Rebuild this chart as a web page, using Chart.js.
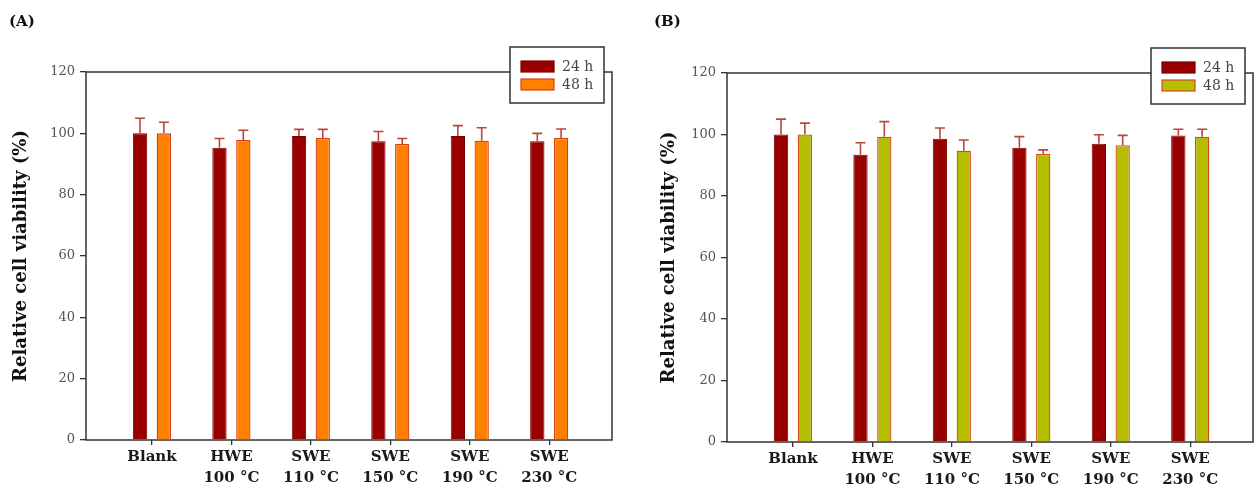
<!DOCTYPE html>
<html>
<head>
<meta charset="utf-8">
<script src="https://cdn.jsdelivr.net/npm/chart.js@4/dist/chart.umd.min.js"></script>
<style>
  body { margin: 0; background: #fff; }
  #wrap { position: relative; width: 1255px; height: 486px; }
  .panel { position: absolute; top: 0; height: 486px; }
  .tag { position: absolute; top: 12px; font: bold 15px "DejaVu Serif", serif; color: #111; }
</style>
</head>
<body>
<div id="wrap">
  <div class="panel" style="left:0;width:627px"><canvas id="chartA"></canvas></div>
  <div class="panel" style="left:627px;width:628px"><canvas id="chartB"></canvas></div>
  <div class="tag" style="left:9px">(A)</div>
  <div class="tag" style="left:654px">(B)</div>
</div>
<script>
const categories = [['Blank'], ['HWE', '100 °C'], ['SWE', '110 °C'], ['SWE', '150 °C'], ['SWE', '190 °C'], ['SWE', '230 °C']];
const seriesNames = ['24 h', '48 h'];
const yTicks = [0, 20, 40, 60, 80, 100, 120];

// panel A
const a24 = [100, 95.3, 99.1, 97.4, 99.1, 97.4];
const a24Err = [4.9, 3.0, 2.2, 3.2, 3.4, 2.6];
const a48 = [100, 97.8, 98.5, 96.5, 97.6, 98.5];
const a48Err = [3.6, 3.2, 2.8, 1.8, 4.2, 2.9];

// panel B
const b24 = [100, 93.4, 98.6, 95.7, 97.0, 99.7];
const b24Err = [5.0, 3.9, 3.5, 3.6, 2.9, 2.0];
const b48 = [100, 99.3, 94.7, 93.7, 96.5, 99.3];
const b48Err = [3.7, 4.9, 3.5, 1.3, 3.2, 2.4];

const errColor = '#b8463f';

const errorBars = {
  id: 'errorBars',
  afterDatasetsDraw(chart) {
    const ctx = chart.ctx;
    const y = chart.scales.y;
    ctx.save();
    ctx.strokeStyle = errColor;
    ctx.lineWidth = 1.6;
    chart.data.datasets.forEach((ds, d) => {
      chart.getDatasetMeta(d).data.forEach((bar, i) => {
        const top = y.getPixelForValue(ds.data[i].y + ds.err[i]);
        ctx.beginPath();
        ctx.moveTo(bar.x, bar.y);
        ctx.lineTo(bar.x, top);
        ctx.moveTo(bar.x - 5, top);
        ctx.lineTo(bar.x + 5, top);
        ctx.stroke();
      });
    });
    ctx.restore();
  }
};

const frameAndLegend = {
  id: 'frameAndLegend',
  beforeDatasetsDraw(chart) {
    const a = chart.chartArea;
    const ctx = chart.ctx;
    ctx.save();
    ctx.strokeStyle = '#333';
    ctx.lineWidth = 1.5;
    ctx.strokeRect(a.left, a.top, a.right - a.left, a.bottom - a.top);
    ctx.restore();
  },
  afterDraw(chart) {
    const a = chart.chartArea;
    const ctx = chart.ctx;
    const bx = a.right - 102, by = a.top - 25, bw = 94, bh = 56;
    ctx.save();
    ctx.fillStyle = '#fff';
    ctx.fillRect(bx, by, bw, bh);
    ctx.strokeStyle = '#333';
    ctx.lineWidth = 1.5;
    ctx.strokeRect(bx, by, bw, bh);
    ctx.font = '14px "DejaVu Serif", serif';
    ctx.textBaseline = 'middle';
    chart.data.datasets.forEach((ds, d) => {
      const sy = by + 14 + d * 18;
      ctx.fillStyle = ds.backgroundColor;
      ctx.fillRect(bx + 11, sy, 33, 11);
      ctx.strokeStyle = ds.borderColor;
      ctx.lineWidth = 1.2;
      ctx.strokeRect(bx + 11, sy, 33, 11);
      ctx.fillStyle = '#444';
      ctx.fillText(ds.label, bx + 52, sy + 6);
    });
    ctx.restore();
  }
};

function makeChart(id, v24, e24, v48, e48, color48, border48, pad, titlePad, xHeight) {
  const pts = (vals) => vals.map((v, i) => ({ x: i, y: v }));
  return new Chart(document.getElementById(id), {
    type: 'bar',
    data: {
      datasets: [
        { label: seriesNames[0], data: pts(v24), err: e24, backgroundColor: '#990000', borderColor: '#7d0000', borderWidth: 1 },
        { label: seriesNames[1], data: pts(v48), err: e48, backgroundColor: color48, borderColor: border48, borderWidth: 1.3 }
      ]
    },
    options: {
      responsive: true,
      maintainAspectRatio: false,
      animation: false,
      layout: { padding: pad },
      datasets: { bar: { categoryPercentage: 0.6, barPercentage: 0.6 } },
      plugins: { legend: { display: false }, tooltip: { enabled: false } },
      scales: {
        x: {
          type: 'linear',
          min: -0.83,
          max: 5.79,
          offset: false,
          grid: { offset: false, drawOnChartArea: false, tickLength: 5, tickColor: '#333', lineWidth: 1.3 },
          border: { display: false },
          afterBuildTicks: (s) => { s.ticks = categories.map((c, i) => ({ value: i })); },
          afterFit: (s) => { s.height = xHeight; },
          ticks: {
            autoSkip: false,
            maxRotation: 0,
            padding: 2,
            color: '#1a1a1a',
            font: { family: '"DejaVu Serif", serif', size: 15, weight: 'bold', lineHeight: 1.4 },
            callback: (v) => categories[Math.round(v)]
          }
        },
        y: {
          min: 0,
          max: 120,
          afterBuildTicks: (s) => { s.ticks = yTicks.map(v => ({ value: v })); },
          afterFit: (s) => { s.width = 86; },
          grid: { drawOnChartArea: false, tickLength: 6, tickColor: '#333', lineWidth: 1.3 },
          border: { display: false },
          ticks: {
            padding: 5,
            color: '#555',
            font: { family: '"DejaVu Serif", serif', size: 13 }
          },
          title: {
            display: true,
            text: 'Relative cell viability (%)',
            color: '#111',
            padding: { top: titlePad, bottom: 4 },
            font: { family: '"DejaVu Serif", serif', size: 18, weight: 'bold' }
          }
        }
      }
    },
    plugins: [frameAndLegend, errorBars]
  });
}

makeChart('chartA', a24, a24Err, a48, a48Err, '#ff8000', '#d8401a', { left: 0, right: 15, top: 72, bottom: 0 }, 11, 46);
makeChart('chartB', b24, b24Err, b48, b48Err, '#b5bd00', '#d84a1a', { left: 14, right: 2, top: 73, bottom: 0 }, 18, 44);
</script>
</body>
</html>
